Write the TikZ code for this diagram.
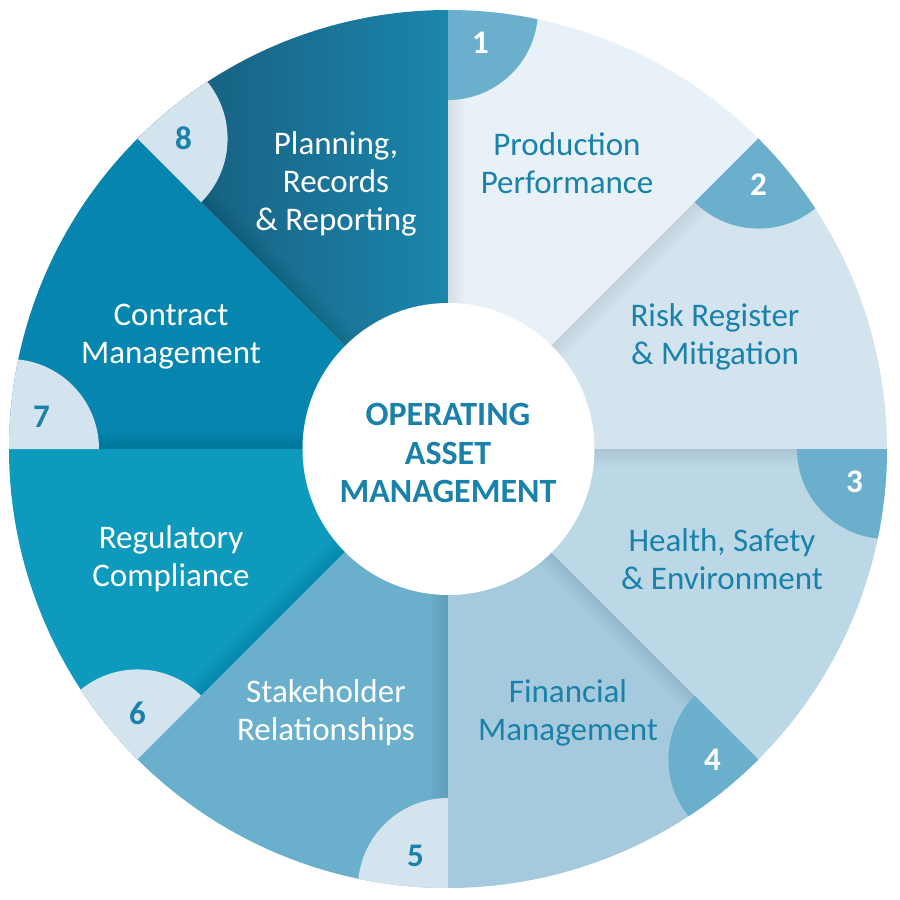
\documentclass[tikz,border=0pt]{standalone}
\usepackage{fontspec}
\setmainfont{Carlito}
\definecolor{sa}{HTML}{E8F1F7}
\definecolor{sb}{HTML}{D3E4EF}
\definecolor{sc}{HTML}{BCD8E6}
\definecolor{sd}{HTML}{A6CADD}
\definecolor{se}{HTML}{6AB0CC}
\definecolor{sf}{HTML}{0E9ABD}
\definecolor{sg}{HTML}{0686AE}
\definecolor{shL}{HTML}{175878}
\definecolor{shR}{HTML}{1B86AC}
\definecolor{badgedark}{HTML}{6AB0CC}
\definecolor{badgelight}{HTML}{D3E4EF}
\definecolor{tealtext}{HTML}{1A82AA}
\tikzset{
  seclabel/.style={align=center,font=\fontsize{33}{38}\selectfont,inner sep=0pt},
  numlabel/.style={font=\fontsize{33}{38}\selectfont\bfseries,inner sep=0pt},
}
\begin{document}
\begin{tikzpicture}[x=1pt,y=1pt]
\useasboundingbox (-448,-451) rectangle (452,449);
\def\R{439}
\foreach \k/\col/\bcol/\ncol in {1/sa/badgedark/white,2/sb/badgedark/white,3/sc/badgedark/white,4/sd/badgedark/white,5/se/badgelight/tealtext,6/sf/badgelight/tealtext,7/sg/badgelight/tealtext,8/none/badgelight/tealtext}{
  \pgfmathsetmacro\a{90-45*(\k-1)}
  \pgfmathsetmacro\b{\a-45}
  \ifnum\k=8
    \path[left color=shL,right color=shR] (0,0) -- (\a:\R) arc[start angle=\a,end angle=\b,radius=\R] -- cycle;
  \else
    \fill[\col] (0,0) -- (\a:\R) arc[start angle=\a,end angle=\b,radius=\R] -- cycle;
  \fi
  \begin{scope}
    \clip (0,0) -- (\a:\R) arc[start angle=\a,end angle=\b,radius=\R] -- cycle;
    \foreach \j in {1,...,9}{
      \fill[black,opacity=0.008,rotate=\a] (0,0) rectangle (\R,-2*\j);
    }
    \fill[\bcol] (\a:\R) circle[radius=90];
  \end{scope}
  \path (\a:\R) ++(\a-135:46) node[numlabel,text=\ncol] (n\k) {\k};
}
\fill[white] (0.5,0) circle[radius=146];
\node[align=center,font=\fontsize{34}{38.5}\selectfont\bfseries,text=tealtext,inner sep=0pt] (center) at (0,-4) {OPERATING\\ASSET\\MANAGEMENT};
\node[seclabel,text=tealtext] (t1) at (119,286) {Production\\Performance};
\node[seclabel,text=tealtext] (t2) at (267,112) {Risk Register\\\& Mitigation};
\node[seclabel,text=tealtext] (t3) at (274,-110) {Health, Safety\\\& Environment};
\node[seclabel,text=tealtext] (t4) at (120,-264) {Financial\\Management};
\node[seclabel,text=white] (t5) at (-122,-264) {Stakeholder\\Relationships};
\node[seclabel,text=white] (t6) at (-277,-110) {Regulatory\\Compliance};
\node[seclabel,text=white] (t7) at (-277,112) {Contract\\Management};
\node[seclabel,text=white] (t8) at (-112,265) {Planning,\\Records\\\& Reporting};
\end{tikzpicture}
\end{document}
